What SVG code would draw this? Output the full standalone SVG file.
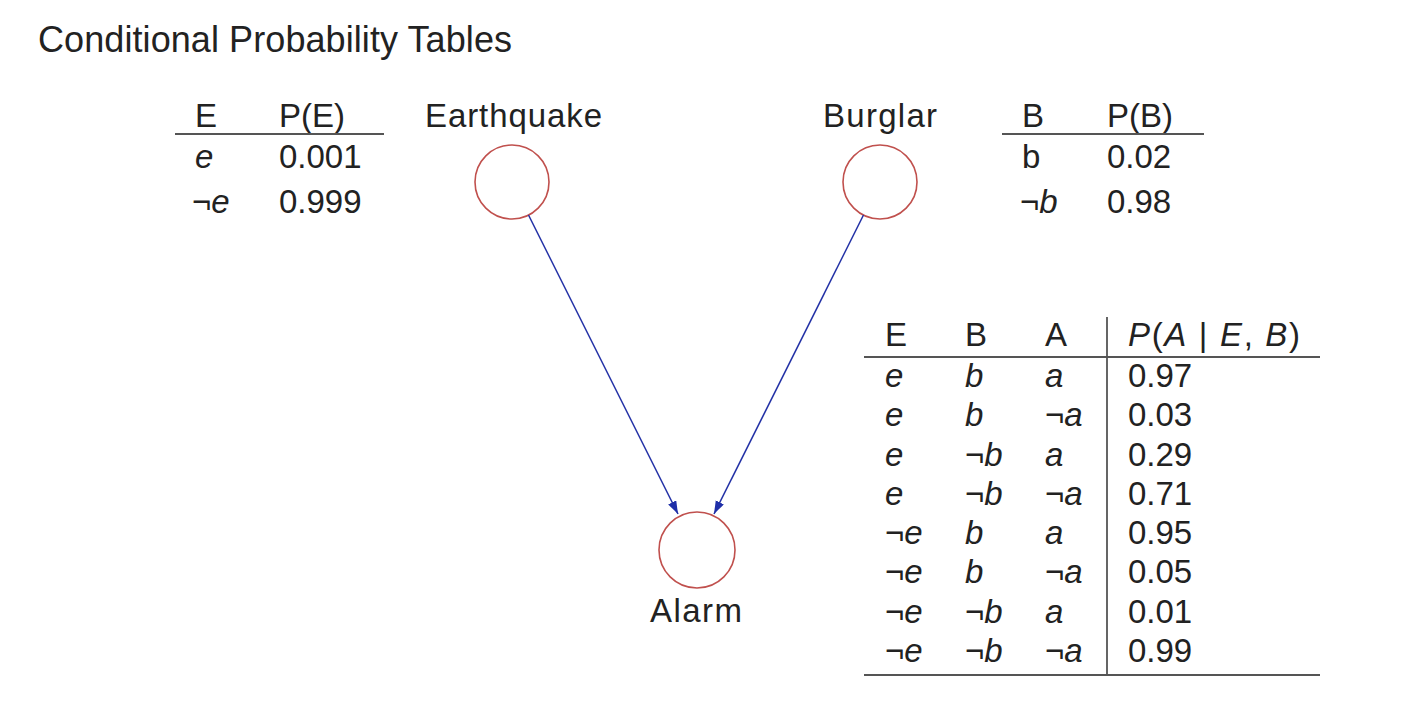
<svg xmlns="http://www.w3.org/2000/svg" width="1422" height="718" viewBox="0 0 1422 718">
<style>
text{font-family:"Liberation Sans",Arial,sans-serif;fill:#222;font-size:33px}
.title{font-size:36px}
.i{font-style:italic}
.rule{stroke:#555;stroke-width:1.8;fill:none}
.node{fill:#fff;stroke:#c0504d;stroke-width:1.6}
.edge{stroke:#2432a6;stroke-width:1.5;fill:none}
</style>
<defs>
<marker id="arr" markerUnits="userSpaceOnUse" markerWidth="14" markerHeight="10" refX="13" refY="4.5" orient="auto">
<path d="M0,0 L13,4.5 L0,9 z" fill="#1f2fa8"/>
</marker>
</defs>
<rect width="1422" height="718" fill="#fff"/>
<text class="title" x="38" y="52" textLength="474">Conditional Probability Tables</text>

<g id="table-e">
<text x="195" y="127">E</text>
<text x="279" y="127">P(E)</text>
<line class="rule" x1="175" y1="134" x2="384" y2="134"/>
<text class="i" x="195" y="168">e</text>
<text x="279" y="168">0.001</text>
<text x="192" y="213">¬<tspan class="i">e</tspan></text>
<text x="279" y="213">0.999</text>
</g>

<g id="table-b">
<text x="1022" y="127">B</text>
<text x="1107" y="127">P(B)</text>
<line class="rule" x1="1002" y1="134" x2="1204" y2="134"/>
<text x="1022" y="168">b</text>
<text x="1107" y="168">0.02</text>
<text x="1020" y="213">¬<tspan class="i">b</tspan></text>
<text x="1107" y="213">0.98</text>
</g>

<g id="earthquake">
<text x="425" y="127" textLength="177">Earthquake</text>
<circle class="node" cx="512" cy="182" r="37"/>
</g>
<g id="burglar">
<text x="823" y="127" textLength="114">Burglar</text>
<circle class="node" cx="880" cy="182" r="37"/>
</g>
<g id="alarm">
<circle class="node" cx="697" cy="550" r="38"/>
<text x="650" y="622" textLength="92">Alarm</text>
</g>

<g id="connectors">
<line class="edge" x1="528.5" y1="215" x2="678" y2="514" marker-end="url(#arr)"/>
<line class="edge" x1="863.5" y1="215" x2="714" y2="514" marker-end="url(#arr)"/>
</g>

<g id="table-a">
<text x="885" y="346">E</text>
<text x="965" y="346">B</text>
<text x="1045" y="346">A</text>
<text x="1128" y="346" textLength="172"><tspan class="i">P</tspan>(<tspan class="i">A</tspan> | <tspan class="i">E</tspan>, <tspan class="i">B</tspan>)</text>
<line class="rule" x1="864" y1="357" x2="1320" y2="357"/>
<line class="rule" x1="1107" y1="317" x2="1107" y2="676"/>
<line class="rule" x1="864" y1="675" x2="1320" y2="675"/>

<text class="i" x="885" y="387">e</text><text class="i" x="965" y="387">b</text><text class="i" x="1045" y="387">a</text><text x="1128" y="387">0.97</text>
<text class="i" x="885" y="426">e</text><text class="i" x="965" y="426">b</text><text x="1045" y="426">¬<tspan class="i">a</tspan></text><text x="1128" y="426">0.03</text>
<text class="i" x="885" y="466">e</text><text x="965" y="466">¬<tspan class="i">b</tspan></text><text class="i" x="1045" y="466">a</text><text x="1128" y="466">0.29</text>
<text class="i" x="885" y="505">e</text><text x="965" y="505">¬<tspan class="i">b</tspan></text><text x="1045" y="505">¬<tspan class="i">a</tspan></text><text x="1128" y="505">0.71</text>
<text x="885" y="544">¬<tspan class="i">e</tspan></text><text class="i" x="965" y="544">b</text><text class="i" x="1045" y="544">a</text><text x="1128" y="544">0.95</text>
<text x="885" y="583">¬<tspan class="i">e</tspan></text><text class="i" x="965" y="583">b</text><text x="1045" y="583">¬<tspan class="i">a</tspan></text><text x="1128" y="583">0.05</text>
<text x="885" y="623">¬<tspan class="i">e</tspan></text><text x="965" y="623">¬<tspan class="i">b</tspan></text><text class="i" x="1045" y="623">a</text><text x="1128" y="623">0.01</text>
<text x="885" y="662">¬<tspan class="i">e</tspan></text><text x="965" y="662">¬<tspan class="i">b</tspan></text><text x="1045" y="662">¬<tspan class="i">a</tspan></text><text x="1128" y="662">0.99</text>
</g>
</svg>
